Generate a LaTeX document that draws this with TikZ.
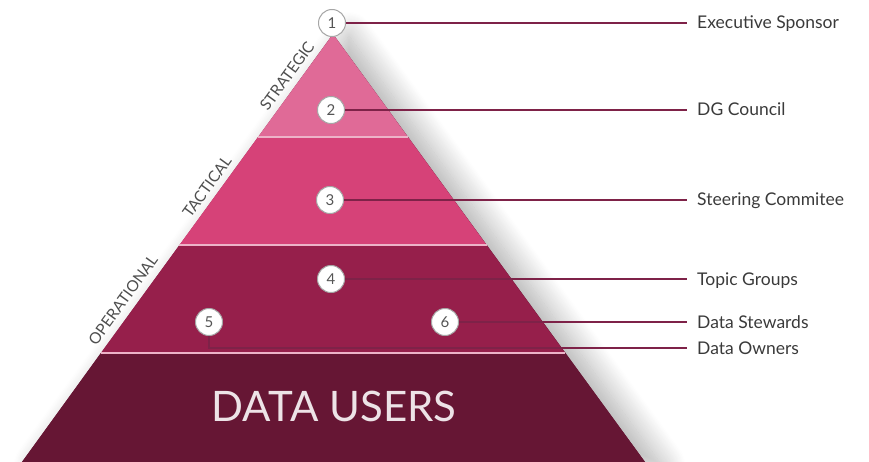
\documentclass[tikz,border=0pt]{standalone}
\usepackage{fontspec}
\setmainfont{Lato}
\usetikzlibrary{shadows.blur}
\definecolor{strat}{HTML}{E06A97}
\definecolor{tact}{HTML}{D64278}
\definecolor{oper}{HTML}{961F4B}
\definecolor{users}{HTML}{661634}
\definecolor{conn}{HTML}{7E2248}
\definecolor{sepc}{HTML}{EDB3C8}
\definecolor{txt}{HTML}{3A3A3A}
\definecolor{numc}{HTML}{555555}
\tikzset{
  numcirc/.style={circle, draw=gray!70, line width=1pt, fill=white, minimum size=27pt, inner sep=0pt,
    text=numc, font=\fontsize{15}{17}\selectfont},
  lbl/.style={anchor=west, inner xsep=10pt, inner ysep=0pt, text height=12pt, text depth=0pt,
    text=txt, font=\fontsize{17.5}{20}\selectfont},
  side/.style={rotate=54, text=txt!90, font=\fontsize{15.5}{17}\selectfont, inner sep=0pt},
  conline/.style={draw=conn, line width=1.5pt},
  sepline/.style={draw=sepc, line width=1.5pt}
}
\begin{document}
\begin{tikzpicture}[x=1pt,y=-1pt]
\useasboundingbox (0,0) rectangle (869,462);
% shadow of pyramid
\fill[users, blur shadow={shadow xshift=16pt, shadow yshift=-2pt, shadow blur radius=24pt,
    shadow blur steps=24, shadow opacity=32}]
  (333,34) -- (645,462) -- (22,462) -- cycle;
% bands
\fill[strat] (333,34) -- (408.0,137) -- (258.0,137) -- cycle;
\fill[tact] (258.0,137) -- (408.0,137) -- (486.6,245) -- (179.4,245) -- cycle;
\fill[oper] (179.4,245) -- (486.6,245) -- (565.2,353) -- (100.8,353) -- cycle;
\fill[users] (100.8,353) -- (565.2,353) -- (645,462) -- (22,462) -- cycle;
% separators
\draw[sepline] (258.0,137) -- (408.0,137);
\draw[sepline] (179.4,245) -- (486.6,245);
\draw[sepline] (100.8,353) -- (565.2,353);
% side labels
\node[side] (s1) at (287,76) {STRATEGIC};
\node[side] (s2) at (207,187) {TACTICAL};
\node[side] (s3) at (123,300) {OPERATIONAL};
% data users
\node[text=white!88!users, font=\fontsize{42}{48}\selectfont, inner sep=0pt] (du) at (334,406) {DATA USERS};
% labels
\node[lbl] (l1) at (687,23) {Executive Sponsor};
\node[lbl] (l2) at (687,110) {DG Council};
\node[lbl] (l3) at (687,200) {Steering Commitee};
\node[lbl] (l4) at (687,279) {Topic Groups};
\node[lbl] (l5) at (687,322) {Data Stewards};
\node[lbl] (l6) at (687,348) {Data Owners};
% circles
\node[numcirc] (c1) at (332,23) {1};
\node[numcirc] (c2) at (331,110) {2};
\node[numcirc] (c3) at (330,200) {3};
\node[numcirc] (c4) at (331,279) {4};
\node[numcirc] (c5) at (209,322) {5};
\node[numcirc] (c6) at (445,322) {6};
% connectors
\draw[conline] (c1.east) -- (l1.west);
\draw[conline] (c2.east) -- (l2.west);
\draw[conline] (c3.east) -- (l3.west);
\draw[conline] (c4.east) -- (l4.west);
\draw[conline] (c6.east) -- (l5.west);
\draw[conline] (c5.south) |- (l6.west);
\end{tikzpicture}
\end{document}
